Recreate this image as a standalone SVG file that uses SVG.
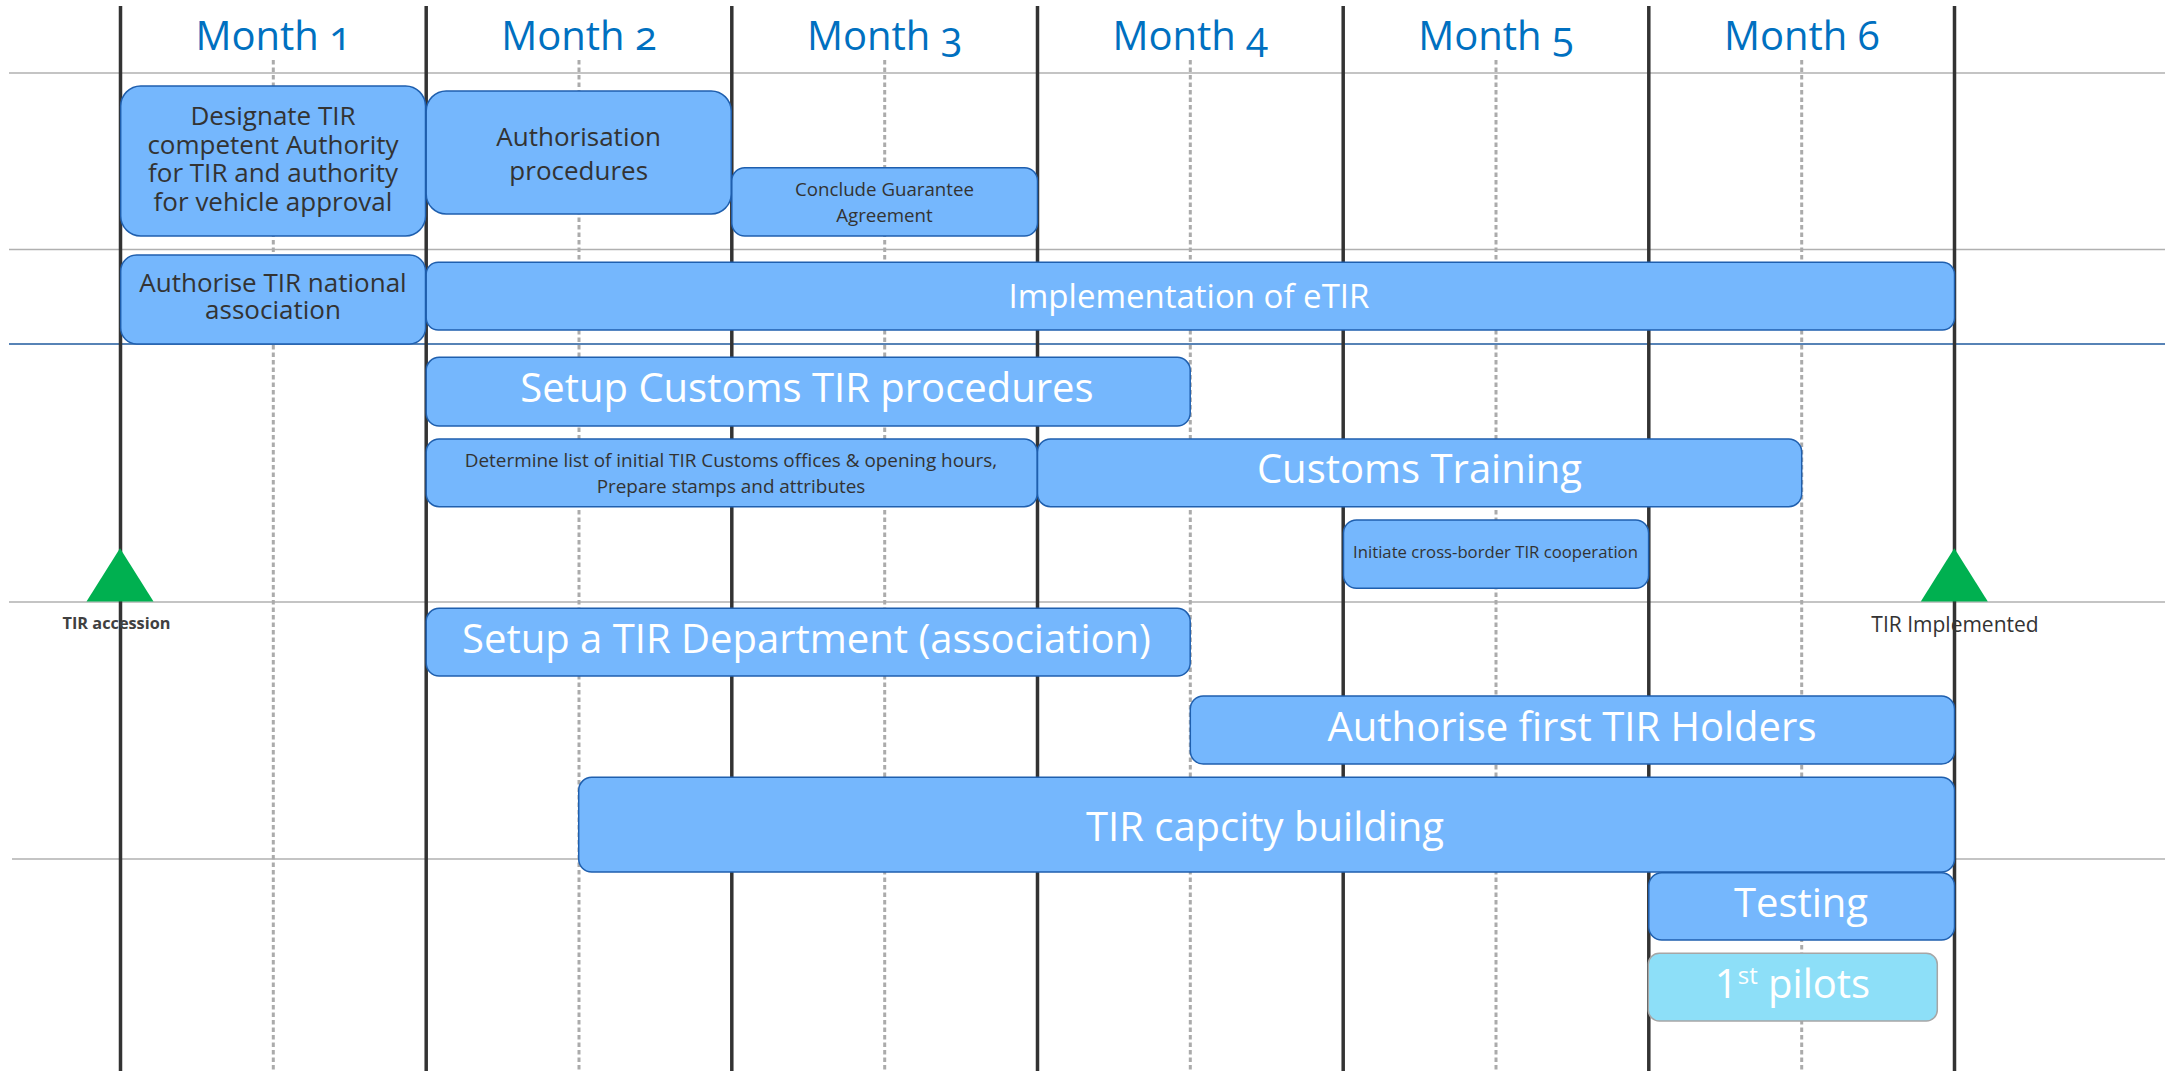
<svg xmlns="http://www.w3.org/2000/svg" width="2165" height="1071" viewBox="0 0 2165 1071">
<style>
text{font-family:"Open Sans","Liberation Sans",sans-serif}
.month{font-size:40px;fill:#0070c0;text-anchor:middle;font-variant-numeric:oldstyle-nums}
.vl{stroke:#333;stroke-width:3.5}
.dl{stroke:#ababab;stroke-width:3;stroke-dasharray:4.5 3}
.hl{stroke:#b0b0b0;stroke-width:1.5}
.bl{stroke:#1f5a9e;stroke-width:1.5}
.box{fill:#75b7fd;stroke:#1f5fae;stroke-width:1.5}
.pilot{fill:#8ddff8;stroke:#a6a6a6;stroke-width:1.5}
.dk{fill:#333;text-anchor:middle}
.wt{fill:#fff;text-anchor:middle;font-size:40px}
.tri{fill:#00b050}
</style>
<rect width="2165" height="1071" fill="#fff"/>
<g id="grid">
<line class="hl" x1="9" y1="73" x2="2165" y2="73"/>
<line class="hl" x1="9" y1="249.5" x2="2165" y2="249.5"/>
<line class="bl" x1="9" y1="344" x2="2165" y2="344"/>
<line class="hl" x1="9" y1="602" x2="2165" y2="602"/>
<line class="hl" x1="12" y1="859" x2="2165" y2="859"/>
<line class="dl" x1="273.3" y1="60" x2="273.3" y2="1071"/>
<line class="dl" x1="579" y1="60" x2="579" y2="1071"/>
<line class="dl" x1="884.7" y1="60" x2="884.7" y2="1071"/>
<line class="dl" x1="1190.3" y1="60" x2="1190.3" y2="1071"/>
<line class="dl" x1="1496" y1="60" x2="1496" y2="1071"/>
<line class="dl" x1="1801.7" y1="60" x2="1801.7" y2="1071"/>
<line class="vl" x1="120.5" y1="6" x2="120.5" y2="1071"/>
<line class="vl" x1="426.2" y1="6" x2="426.2" y2="1071"/>
<line class="vl" x1="731.8" y1="6" x2="731.8" y2="1071"/>
<line class="vl" x1="1037.5" y1="6" x2="1037.5" y2="1071"/>
<line class="vl" x1="1343.2" y1="6" x2="1343.2" y2="1071"/>
<line class="vl" x1="1648.8" y1="6" x2="1648.8" y2="1071"/>
<line class="vl" x1="1954.5" y1="6" x2="1954.5" y2="1071"/>
</g>
<g id="headers">
<text class="month" x="273.3" y="50">Month 1</text>
<text class="month" x="579" y="50">Month 2</text>
<text class="month" x="884.7" y="50">Month 3</text>
<text class="month" x="1190.3" y="50">Month 4</text>
<text class="month" x="1496" y="50">Month 5</text>
<text class="month" x="1801.7" y="50">Month 6</text>
</g>
<g id="connectors"></g>
<g id="n-designate">
<rect class="box" x="120.7" y="86" width="304.8" height="150" rx="20"/>
<text class="dk" font-size="26" x="273" y="125">Designate TIR</text>
<text class="dk" font-size="26" x="273" y="153.5">competent Authority</text>
<text class="dk" font-size="26" x="273" y="182">for TIR and authority</text>
<text class="dk" font-size="26" x="273" y="210.5">for vehicle approval</text>
</g>
<g id="n-authorisation">
<rect class="box" x="426.2" y="91" width="305" height="123" rx="20"/>
<text class="dk" font-size="26" x="578.7" y="146">Authorisation</text>
<text class="dk" font-size="26" x="578.7" y="180">procedures</text>
</g>
<g id="n-guarantee">
<rect class="box" x="731.8" y="167.7" width="305.7" height="68.3" rx="13"/>
<text class="dk" font-size="18.7" x="884.5" y="195.7">Conclude Guarantee</text>
<text class="dk" font-size="18.7" x="884.5" y="221.7">Agreement</text>
</g>
<g id="n-association">
<rect class="box" x="120.7" y="255" width="304.8" height="89" rx="16"/>
<text class="dk" font-size="26" x="273" y="291.7">Authorise TIR national</text>
<text class="dk" font-size="26" x="273" y="319.3">association</text>
</g>
<g id="n-etir">
<rect class="box" x="426.2" y="262.3" width="1528.3" height="67.7" rx="12"/>
<text class="wt" style="font-size:33px" x="1189" y="308">Implementation of eTIR</text>
</g>
<g id="n-customs-proc">
<rect class="box" x="426.2" y="357.3" width="764" height="68.7" rx="13"/>
<text class="wt" x="807" y="401.7">Setup Customs TIR procedures</text>
</g>
<g id="n-offices">
<rect class="box" x="426.2" y="439" width="611" height="67.7" rx="13"/>
<text class="dk" font-size="18.9" x="731" y="466.7">Determine list of initial TIR Customs offices &amp; opening hours,</text>
<text class="dk" font-size="18.9" x="731" y="492.7">Prepare stamps and attributes</text>
</g>
<g id="n-training">
<rect class="box" x="1037.5" y="439" width="764.2" height="67.7" rx="13"/>
<text class="wt" x="1419.5" y="482.7">Customs Training</text>
</g>
<g id="n-crossborder">
<rect class="box" x="1343.5" y="520" width="305.1" height="68.3" rx="13"/>
<text class="dk" font-size="16.7" x="1495.5" y="558.3">Initiate cross-border TIR cooperation</text>
</g>
<g id="m-accession">
<polygon class="tri" points="120,548.3 153.5,601.5 86.5,601.5"/>
<text x="116.5" y="629.3" font-size="16.3" font-weight="bold" fill="#404040" text-anchor="middle">TIR accession</text>
</g>
<g id="m-implemented">
<polygon class="tri" points="1954.3,548.3 1987.8,601.5 1920.8,601.5"/>
<text x="1955" y="631.7" font-size="21" fill="#333" text-anchor="middle">TIR Implemented</text>
</g>
<g id="n-department">
<rect class="box" x="426.2" y="608.3" width="764" height="67.7" rx="13"/>
<text class="wt" x="806.5" y="652.7">Setup a TIR Department (association)</text>
</g>
<g id="n-holders">
<rect class="box" x="1190.3" y="696" width="764.2" height="68" rx="13"/>
<text class="wt" x="1572" y="740.7">Authorise first TIR Holders</text>
</g>
<g id="n-capacity">
<rect class="box" x="578.7" y="777.3" width="1375.8" height="94.7" rx="13"/>
<text class="wt" x="1265" y="840.7">TIR capcity building</text>
</g>
<g id="n-testing">
<rect class="box" x="1648.8" y="872.7" width="305.7" height="67.3" rx="13"/>
<text class="wt" x="1801" y="916.7">Testing</text>
</g>
<g id="n-pilots">
<rect class="pilot" x="1648.3" y="953.3" width="289" height="67.7" rx="11"/>
<text class="wt" x="1792.5" y="997.7">1<tspan font-size="24" dy="-14">st</tspan><tspan dy="14"> pilots</tspan></text>
</g>
</svg>
